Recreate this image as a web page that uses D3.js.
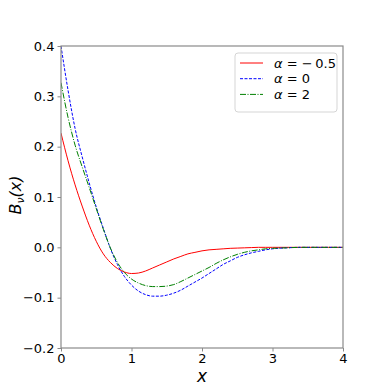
<!DOCTYPE html>
<html>
<head>
<meta charset="utf-8">
<script src="https://cdn.jsdelivr.net/npm/d3@7"></script>
<style>
  body { margin: 0; background: #fff; }
  svg { display: block; font-family: "DejaVu Sans", sans-serif; }
</style>
</head>
<body>
<svg width="381" height="392"></svg>
<script>
// values
var xs = [0, 0.1, 0.2, 0.3, 0.4, 0.5, 0.6, 0.7, 0.8, 0.9, 1.0, 1.1, 1.2, 1.3, 1.4, 1.5,
          1.6, 1.7, 1.8, 1.9, 2.0, 2.1, 2.2, 2.3, 2.4, 2.5, 2.6, 2.7, 2.8, 2.9, 3.0,
          3.2, 3.4, 3.6, 3.8, 4.0];

var redVals = [0.227, 0.172, 0.124, 0.082, 0.044, 0.012, -0.013, -0.030, -0.042, -0.049, -0.052,
               -0.051, -0.047, -0.041, -0.035, -0.029, -0.023, -0.018, -0.013, -0.010, -0.007,
               -0.005, -0.004, -0.003, -0.002, -0.0015, -0.001, -0.0005, 0, 0, 0,
               0, 0, 0, 0, 0];

var blueVals = [0.400, 0.312, 0.236, 0.180, 0.128, 0.080, 0.038, -0.002, -0.034, -0.058, -0.075,
                -0.087, -0.094, -0.097, -0.097, -0.095, -0.091, -0.085, -0.077, -0.069, -0.061,
                -0.052, -0.043, -0.034, -0.027, -0.020, -0.015, -0.011, -0.008, -0.005, -0.003,
                -0.001, 0, 0, 0, 0];

var greenVals = [0.327, 0.258, 0.203, 0.160, 0.119, 0.077, 0.036, -0.001, -0.030, -0.050, -0.063,
                 -0.071, -0.076, -0.078, -0.078, -0.077, -0.074, -0.068, -0.061, -0.054, -0.047,
                 -0.040, -0.032, -0.025, -0.019, -0.014, -0.010, -0.007, -0.005, -0.003, -0.002,
                 -0.001, 0, 0, 0, 0];

var legendLabels = ["−\u20090.5", "0", "2"];
var xTicks = [0, 1, 2, 3, 4];
var yTicks = [-0.2, -0.1, 0.0, 0.1, 0.2, 0.3, 0.4];

var series = [
  {vals: redVals, color: "#ff0000", dash: null, label: legendLabels[0]},
  {vals: blueVals, color: "#0000ff", dash: "3,1.5", label: legendLabels[1]},
  {vals: greenVals, color: "#008000", dash: "6,1.5,1,1.5", label: legendLabels[2]}
];

var svg = d3.select("svg");
var m = {left: 61, right: 343, top: 46, bottom: 348};

var x = d3.scaleLinear().domain([0, 4]).range([m.left, m.right]);
var y = d3.scaleLinear().domain([-0.2, 0.4]).range([m.bottom, m.top]);

var axisColor = "#8a8a8a";

// axes
var xAxis = svg.append("g")
    .attr("transform", "translate(0," + m.bottom + ")")
    .call(d3.axisBottom(x).tickValues(xTicks).tickSize(3.5).tickPadding(2)
      .tickFormat(d3.format("d")));
var yAxis = svg.append("g")
    .attr("transform", "translate(" + m.left + ",0)")
    .call(d3.axisLeft(y).tickValues(yTicks).tickSize(3.5).tickPadding(3)
      .tickFormat(function(d) { return d3.format(".1f")(d).replace("-", "−"); }));

[xAxis, yAxis].forEach(function(g) {
  g.select(".domain").remove();
  g.selectAll(".tick line").attr("stroke", axisColor);
  g.selectAll(".tick text").attr("fill", "#000").style("font-size", "13px")
    .style("font-family", "DejaVu Sans");
});

// curves
var line = d3.line()
    .x(function(d) { return x(d[0]); })
    .y(function(d) { return y(d[1]); })
    .curve(d3.curveMonotoneX);

svg.append("clipPath").attr("id", "clip")
  .append("rect").attr("x", m.left).attr("y", m.top)
  .attr("width", m.right - m.left).attr("height", m.bottom - m.top);

svg.append("g").attr("clip-path", "url(#clip)")
  .selectAll("path")
  .data(series)
  .enter().append("path")
    .attr("d", function(s) { return line(xs.map(function(v, i) { return [v, s.vals[i]]; })); })
    .attr("fill", "none")
    .attr("stroke", function(s) { return s.color; })
    .attr("stroke-width", 1)
    .attr("stroke-dasharray", function(s) { return s.dash; });

// frame
svg.append("rect")
    .attr("x", m.left).attr("y", m.top)
    .attr("width", m.right - m.left).attr("height", m.bottom - m.top)
    .attr("fill", "none")
    .attr("stroke", axisColor)
    .attr("stroke-width", 1.2);

// axis labels
svg.append("text")
    .attr("x", (m.left + m.right) / 2).attr("y", 382)
    .attr("text-anchor", "middle")
    .style("font-size", "17px").style("font-style", "italic")
    .text("x");

svg.append("text")
    .attr("transform", "translate(21,195) rotate(-90)")
    .attr("text-anchor", "middle")
    .style("font-size", "16px").style("font-style", "italic")
    .html("B<tspan dy='3' font-size='11px'>ν</tspan><tspan dy='-3'>(x)</tspan>");

// legend
var legend = svg.append("g");
legend.append("rect")
    .attr("x", 235).attr("y", 53).attr("width", 102).attr("height", 59)
    .attr("rx", 3)
    .attr("fill", "#fff").attr("fill-opacity", 0.8)
    .attr("stroke", "#d5d5d5");

var item = legend.selectAll("g.item")
  .data(series)
  .enter().append("g")
    .attr("class", "item")
    .attr("transform", function(d, i) { return "translate(0," + (63 + i * 15.7) + ")"; });

item.append("line")
    .attr("x1", 240).attr("x2", 263)
    .attr("stroke", function(s) { return s.color; })
    .attr("stroke-width", 1)
    .attr("stroke-dasharray", function(s) { return s.dash; });

var label = item.append("text")
    .attr("x", 274).attr("y", 4.5)
    .style("font-size", "13px");
label.append("tspan").style("font-style", "italic").text("α");
label.append("tspan").text(function(s) { return " = " + s.label; });
</script>
</body>
</html>
